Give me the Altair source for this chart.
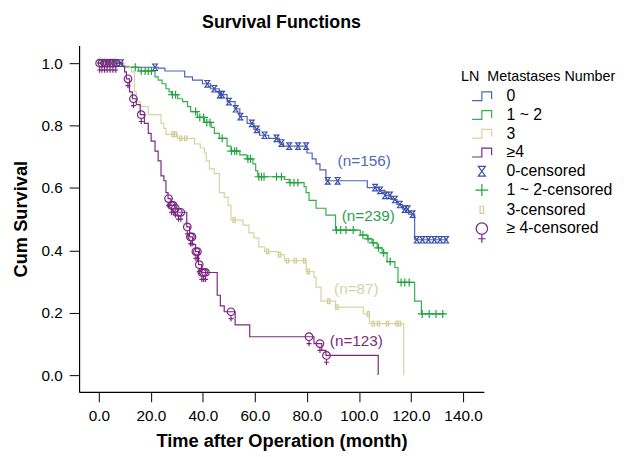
import altair as alt
import pandas as pd

FONT = "Liberation Sans, Arial, sans-serif"

# ---------------- data ----------------
groups = ["0", "1 ~ 2", "3", "≥4"]
censor_labels = ["0-censored", "1 ~ 2-censored", "3-censored", "≥ 4-censored"]

# step curves: change times (months) and cumulative survival after each change
t0 = [0, 9.5, 22.8, 25.4, 33, 36, 39.8, 43, 46.3, 49.3, 52.4, 54.2, 57, 59.6, 61.8, 65.3,
      69.4, 71, 80, 82, 83.5, 85, 87.3, 103.2, 107.7, 110, 112.3, 114.6, 116.8, 119, 121.4, 134]
s0 = [1.0, 0.987, 0.984, 0.975, 0.956, 0.946, 0.934, 0.918, 0.899, 0.877, 0.854, 0.829, 0.807,
      0.788, 0.769, 0.759, 0.744, 0.734, 0.712, 0.693, 0.677, 0.658, 0.623, 0.601, 0.592, 0.576,
      0.563, 0.547, 0.532, 0.516, 0.434, 0.434]

t1 = [0, 8.7, 11.4, 15.2, 21.6, 22.8, 24.3, 25.8, 27, 28, 30.3, 32.2, 34.1, 35.3, 37.9, 40.6,
      43.2, 44.4, 46.3, 49.3, 50.8, 54.2, 56.9, 59.2, 60.3, 61.1, 71.3, 73.2, 78.9, 79.7, 80.8,
      83.5, 87.3, 91, 100.5, 103.2, 105, 107, 108.9, 110.8, 113.8, 115, 121.4, 124, 132.8]
s1 = [1.0, 0.99, 0.987, 0.975, 0.956, 0.946, 0.934, 0.918, 0.908, 0.899, 0.886, 0.877, 0.861,
      0.845, 0.826, 0.81, 0.794, 0.775, 0.759, 0.734, 0.718, 0.706, 0.693, 0.677, 0.655, 0.636,
      0.627, 0.617, 0.604, 0.585, 0.56, 0.535, 0.513, 0.465, 0.449, 0.437, 0.424, 0.408, 0.392,
      0.364, 0.345, 0.297, 0.237, 0.196, 0.196]

t2 = [0, 9.5, 12.5, 13.7, 14.4, 15.9, 19, 23.9, 25, 25.8, 30.3, 36.8, 39, 40.6, 41.3, 42.5,
      44.4, 46.3, 48.2, 49.7, 50.8, 55.4, 57.7, 59.6, 61.5, 63.7, 69, 71.3, 79.7, 82.7, 83.5,
      85.4, 91, 101.7, 104, 117.2]
s2 = [1.0, 0.987, 0.972, 0.908, 0.877, 0.861, 0.835, 0.807, 0.791, 0.772, 0.759, 0.741, 0.728,
      0.712, 0.687, 0.661, 0.646, 0.585, 0.57, 0.544, 0.497, 0.481, 0.456, 0.44, 0.411, 0.396,
      0.386, 0.367, 0.332, 0.313, 0.282, 0.237, 0.218, 0.196, 0.165, 0.0]

t3 = [0, 9.1, 9.9, 10.6, 11.8, 12.9, 14.4, 15.9, 17.5, 19, 20.1, 21.6, 22.8, 23.9, 25, 25.8,
      26.6, 27.7, 29.2, 30.3, 33.8, 34.9, 36, 37.2, 38.3, 39.5, 45.5, 46.7, 48.2, 52.4, 58,
      82.7, 85.7, 87.3, 107.4]
s3 = [1.0, 0.99, 0.972, 0.95, 0.908, 0.886, 0.867, 0.835, 0.807, 0.775, 0.75, 0.718, 0.687,
      0.639, 0.623, 0.585, 0.566, 0.544, 0.535, 0.522, 0.475, 0.443, 0.418, 0.396, 0.354, 0.329,
      0.256, 0.222, 0.203, 0.161, 0.123, 0.101, 0.079, 0.063, 0.0]

# censoring times (months)
c0 = [2, 4, 6.5, 8.5, 21.6, 41.7, 44.4, 46.5, 47.4, 50, 52.6, 54.4, 58.8, 60.7, 63.7, 68.3,
      70.2, 73.2, 76.6, 79.7, 88, 91.8, 106.2, 108.1, 110, 111.9, 113.8, 115.7, 117.6, 118.7,
      120.6, 122.2, 124.4, 126.7, 129, 131.2, 133.5]
c1 = [1, 3, 5.5, 14, 16.3, 17.8, 19, 20.2, 28.3, 29.5, 37.2, 38.8, 40.3, 41.5, 42.7, 47.4, 51,
      52.2, 53, 57.3, 58.3, 61.5, 62.5, 63.5, 68.3, 70.2, 73.5, 75, 76.5, 91.3, 93, 95, 97.8,
      101.5, 103.5, 105.5, 107.5, 109.5, 112, 116.2, 117.6, 119.3, 124.3, 127, 129.6, 132.2]
c2 = [2.5, 5, 28.5, 29.4, 31.5, 33.4, 52, 64.9, 69.5, 72.5, 75.5, 79, 80.5, 88.4, 91.5, 103.6,
      105.5, 107.5, 111, 114.6, 115.6]
c3 = [0.3, 1.2, 2.2, 3.2, 4.3, 5.4, 6.5, 11.2, 13.3, 16.3, 26.8, 27.9, 28.6, 29.4, 30.6, 31.5,
      34, 35.2, 35.8, 37.3, 37.9, 38.6, 39.6, 40.3, 41, 50.8, 80.8, 85, 87.5]

n_labels = ["(n=156)", "(n=239)", "(n=87)", "(n=123)"]
n_t = [102, 103.6, 99, 99]
n_s = [0.687, 0.51, 0.275, 0.108]

x_ticks = [0, 20, 40, 60, 80, 100, 120, 140]
y_ticks = [0.0, 0.2, 0.4, 0.6, 0.8, 1.0]

# ---------------- styling ----------------
line_colors = ["#5062b8", "#33b04b", "#d8d3a0", "#7b2a82"]
mark_colors = ["#3b4fa6", "#22a23e", "#d2cd94", "#7a2580"]
text_colors = ["#5267b8", "#2e9e4c", "#d6d2a6", "#7b2b82"]

step_path = "M-1.1,0.5L0,0.5L0,-0.5L1.1,-0.5L1.1,0.3"
hourglass = "M-0.4,-0.55L0.4,-0.55L-0.4,0.55L0.4,0.55Z"
plus = "M-0.72,0L0.72,0M0,-0.67L0,0.67"
rect = "M-0.2,-0.4L0.2,-0.4L0.2,0.4L-0.2,0.4Z"
female = ("M-0.64,0A0.64,0.64 0 1,0 0.64,0A0.64,0.64 0 1,0 -0.64,0"
          "M0,0.64L0,1.6M-0.42,1.15L0.42,1.15")

times = [t0, t1, t2, t3]
survs = [s0, s1, s2, s3]
cens = [c0, c1, c2, c3]


def surv_at(ts, ss, t):
    v = ss[0]
    for ti, si in zip(ts, ss):
        if ti <= t:
            v = si
    return v


def xenc():
    return alt.X("t:Q", scale=alt.Scale(domain=[-7.6, 148], nice=False, zero=False),
                 axis=alt.Axis(values=x_ticks, format=".1f", title="Time after Operation (month)"))


def yenc():
    return alt.Y("s:Q", scale=alt.Scale(domain=[-0.054, 1.057], nice=False, zero=False),
                 axis=alt.Axis(values=y_ticks, format=".1f", title="Cum Survival"))


layers = []
for ts, ss, col in zip(times, survs, line_colors):
    df = pd.DataFrame({"t": ts, "s": ss})
    layers.append(alt.Chart(df).mark_line(interpolate="step-after", color=col, strokeWidth=1.2)
                  .encode(x=xenc(), y=yenc()))

rows = []
for lab, cts, ts, ss in zip(censor_labels, cens, times, survs):
    for c in cts:
        rows.append({"t": c, "s": surv_at(ts, ss, c), "series": lab})
pts = pd.DataFrame(rows)

all_labels = groups + censor_labels
legend_title = "LN\u00a0 Metastases Number"
points = alt.Chart(pts).mark_point(filled=False, size=144, strokeWidth=1.2, opacity=1).encode(
    x=xenc(), y=yenc(),
    color=alt.Color("series:N",
                    scale=alt.Scale(domain=all_labels, range=line_colors + mark_colors),
                    legend=alt.Legend(title=legend_title)),
    shape=alt.Shape("series:N",
                    scale=alt.Scale(domain=all_labels,
                                    range=[step_path] * 4 + [hourglass, plus, rect, female]),
                    legend=alt.Legend(title=legend_title)),
)
layers.append(points)

for lab, tt, sv, col in zip(n_labels, n_t, n_s, text_colors):
    df = pd.DataFrame({"t": [tt], "s": [sv], "txt": [lab]})
    layers.append(alt.Chart(df).mark_text(font=FONT, fontSize=15.5, color=col)
                  .encode(x=xenc(), y=yenc(), text="txt:N"))

chart = alt.layer(*layers).properties(
    width=410, height=351,
    title=alt.TitleParams("Survival Functions", font=FONT, fontSize=18, fontWeight="bold",
                          color="black", anchor="middle", frame="group", offset=14),
    padding={"left": 72, "top": 35, "right": 143, "bottom": 62},
    autosize=alt.AutoSizeParams(type="none"),
).configure_view(stroke=None).configure_axis(
    grid=False, domainColor="black", domainWidth=1.2, tickColor="black", tickWidth=1,
    tickSize=10, labelFont=FONT, labelFontSize=15.5, labelColor="black", labelPadding=7,
    titleFont=FONT, titleFontSize=18.5, titleFontWeight="bold", titleColor="black",
).configure_axisY(titlePadding=11).configure_axisX(titlePadding=8).configure_legend(
    orient="none", legendX=387, legendY=25, padding=0,
    titleFont=FONT, titleFontSize=14.5, titleFontWeight="normal", titleColor="black",
    titlePadding=2, labelFont=FONT, labelFontSize=16, labelColor="black",
    symbolSize=324, symbolStrokeWidth=1.2, symbolOffset=11, labelOffset=15, rowPadding=1,
    symbolFillColor="transparent",
)

chart.save("out.html", embed_options={"renderer": "svg", "actions": False})
